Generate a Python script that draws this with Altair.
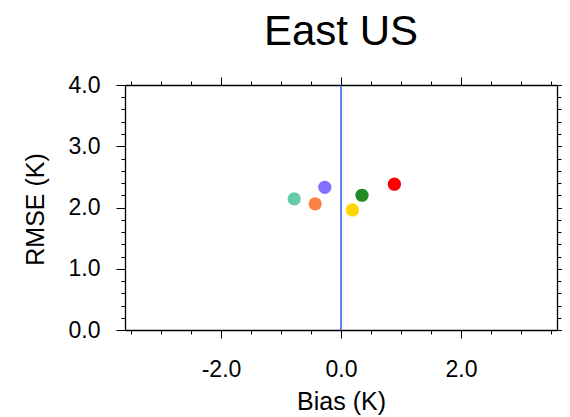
import altair as alt
import pandas as pd

models = ["A", "B", "C", "D", "E", "F"]
bias = [-0.78, -0.43, -0.27, 0.35, 0.19, 0.89]
rmse = [2.14, 2.06, 2.33, 2.20, 1.96, 2.38]
colors = ["#66CDAA", "#FA8046", "#8470FF", "#228B22", "#FFD700", "#FF0000"]

x_ticks = [-3.5, -3.0, -2.5, -2.0, -1.5, -1.0, -0.5, 0.0, 0.5, 1.0, 1.5, 2.0, 2.5, 3.0, 3.5]
y_ticks = [0.0, 0.2, 0.4, 0.6, 0.8, 1.0, 1.2, 1.4, 1.6, 1.8, 2.0, 2.2, 2.4, 2.6, 2.8,
           3.0, 3.2, 3.4, 3.6, 3.8, 4.0]

df = pd.DataFrame({"model": models, "bias": bias, "rmse": rmse})
zero = pd.DataFrame({"x": [0.0]})

FONT = "Liberation Sans"
x_major = "abs(datum.value % 2) < 0.01"
y_major = "abs(datum.value - round(datum.value)) < 0.01"
fmt = "replace(format(datum.value, '.1f'), '\u2212', '-')"

xscale = alt.Scale(domain=[-3.6, 3.6], nice=False, zero=False)
yscale = alt.Scale(domain=[0, 4], nice=False, zero=False)

common_axis = dict(
    grid=False, domainColor="black", domainWidth=1.3, tickColor="black",
    tickWidth=1, labelFont=FONT, titleFont=FONT, labelColor="black",
    titleColor="black", titleFontWeight="normal",
)

x_bottom = alt.Axis(
    values=x_ticks, orient="bottom", title="Bias (K)", titleFontSize=25,
    labelFontSize=23, labelPadding=20,
    labelExpr=f"{x_major} ? {fmt} : ''",
    tickSize={"condition": {"test": x_major, "value": 8}, "value": 4},
    titleX=216, titleY=71, titleBaseline="middle", **common_axis,
)
y_left = alt.Axis(
    values=y_ticks, orient="left", title="RMSE (K)", titleFontSize=25,
    labelFontSize=23, labelPadding=16,
    labelExpr=f"{y_major} ? {fmt} : ''",
    tickSize={"condition": {"test": y_major, "value": 9}, "value": 4},
    titleX=-90, titleY=124, titleAngle=-90, titleBaseline="middle", **common_axis,
)
x_top = alt.Axis(
    values=x_ticks, orient="top", title=None, labels=False,
    tickSize={"condition": {"test": x_major, "value": 8}, "value": 4},
    **common_axis,
)
y_right = alt.Axis(
    values=y_ticks, orient="right", title=None, labels=False,
    tickSize={"condition": {"test": y_major, "value": 9}, "value": 4},
    **common_axis,
)

points = alt.Chart(df).mark_circle(size=175, opacity=1).encode(
    x=alt.X("bias:Q", scale=xscale, axis=x_bottom),
    y=alt.Y("rmse:Q", scale=yscale, axis=y_left),
    color=alt.Color("model:N", scale=alt.Scale(domain=models, range=colors), legend=None),
)

rule = alt.Chart(zero).mark_rule(color="#1F55E6", strokeWidth=1.4).encode(
    x=alt.X("x:Q", scale=xscale, axis=x_top),
    y=alt.value(0),
    y2=alt.value(245),
)

frame = alt.Chart(zero).mark_point(opacity=0).encode(
    y=alt.Y("x:Q", scale=yscale, axis=y_right),
)

chart = alt.layer(rule, points, frame).resolve_axis(
    x="independent", y="independent"
).resolve_scale(x="shared", y="shared").properties(
    width=432, height=245,
    autosize=alt.AutoSizeParams(type="none"),
    padding={"left": 117, "top": 77, "right": 5, "bottom": 90},
    title=alt.TitleParams(
        "East US", font=FONT, fontSize=42, fontWeight="normal", color="black",
        anchor="middle", offset=20,
    ),
).configure_view(stroke=None)

chart.save("out.html", embed_options={"renderer": "svg", "actions": False})
